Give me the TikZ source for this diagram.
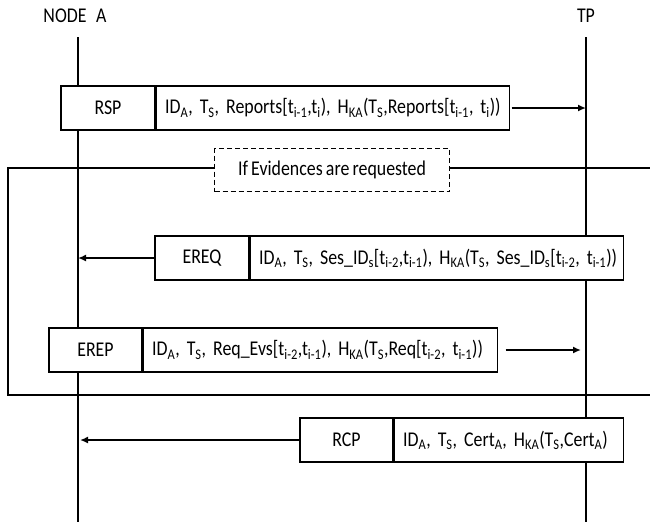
\documentclass[tikz,border=0pt]{standalone}
\usepackage{fontspec}
\setmainfont{Carlito}[FakeStretch = 0.85, WordSpace = 0.8]
\usetikzlibrary{arrows.meta}
\newcommand{\sbs}[1]{\textsubscript{#1}}
\newcommand{\msgline}[1]{\mbox{\frenchspacing #1}}

\begin{document}
\begin{tikzpicture}[x = 1pt, y = -1pt, font = \fontsize{21}{24}\selectfont,
        lifeline/.style = {line width = 1.8pt},
        tag/.style = {draw, line width = 1.1pt, minimum height = 44pt, inner sep = 0pt},
        msg/.style = {draw, line width = 1.1pt, minimum height = 44pt, inner xsep = 9pt, inner ysep = 0pt},
        send/.style = {line width = 2.6pt, -{Latex[length = 8pt, width = 7pt]}},
        frame/.style = {line width = 2pt}]
    \useasboundingbox (0, 0) rectangle (650, 523);
    % lifelines
    \node (a) at (75, 16) {NODE\ \ \ A};
    \node (tp) at (586, 16) {TP};
    \coordinate (aTop) at (78, 37);
    \coordinate (aBot) at (78, 522);
    \coordinate (tpTop) at (586, 37);
    \coordinate (tpBot) at (586, 522);
    \draw[lifeline] (aTop) -- (aBot);
    \draw[lifeline] (tpTop) -- (tpBot);
    % condition frame
    \node[draw, dash pattern = on 5pt off 3pt, line width = 1.4pt, minimum width = 235pt, minimum height = 43pt] (cond) at (332, 170) {If Evidences are requested};
    \coordinate (fTL) at (8, 168);
    \coordinate (fBL) at (8, 395);
    \coordinate (fBR) at (650, 395);
    \coordinate (fTR) at (650, 168);
    \draw[frame] (cond.west |- fTL) -- (fTL) -- (fBL) -- (fBR);
    \draw[frame] (cond.east |- fTR) -- (fTR);
    % messages
    \node[tag, fill = white, minimum width = 94pt] (rsp) at (108, 108) {RSP};
    \node[msg, fill = white, text width = 335pt, anchor = west] (rspMsg) at (rsp.east) {\msgline{ID\sbs{A}, T\sbs{S}, Reports[t\sbs{i-1},t\sbs{i}), H\sbs{KA}(T\sbs{S},Reports[t\sbs{i-1}, t\sbs{i}))}};
    \draw[send] ([xshift = 2pt]rspMsg.east) -- (rspMsg.east -| tpTop);
    \node[tag, fill = white, minimum width = 94pt] (ereq) at (202, 258) {EREQ};
    \node[msg, fill = white, text width = 355pt, anchor = west] (ereqMsg) at (ereq.east) {\msgline{ID\sbs{A}, T\sbs{S}, Ses\_ID\sbs{s}[t\sbs{i-2},t\sbs{i-1}), H\sbs{KA}(T\sbs{S}, Ses\_ID\sbs{s}[t\sbs{i-2}, t\sbs{i-1}))}};
    \draw[send] (ereq.west) -- (ereq.west -| aTop);
    \node[tag, fill = white, minimum width = 93pt] (erep) at (95.5, 350) {EREP};
    \node[msg, fill = white, text width = 336pt, anchor = west] (erepMsg) at (erep.east) {\msgline{ID\sbs{A}, T\sbs{S}, Req\_Evs[t\sbs{i-2},t\sbs{i-1}), H\sbs{KA}(T\sbs{S},Req[t\sbs{i-2}, t\sbs{i-1}))}};
    \draw[send] ([xshift = 8pt]erepMsg.east) -- ([xshift = -5pt]erepMsg.east -| tpTop);
    \node[tag, fill = white, minimum width = 93pt] (rcp) at (346.5, 440) {RCP};
    \node[msg, fill = white, text width = 211pt, anchor = west] (rcpMsg) at (rcp.east) {\msgline{ID\sbs{A}, T\sbs{S}, Cert\sbs{A}, H\sbs{KA}(T\sbs{S},Cert\sbs{A})}};
    \draw[send] (rcp.west) -- ([xshift = 2pt]rcp.west -| aTop);
\end{tikzpicture}
\end{document}
